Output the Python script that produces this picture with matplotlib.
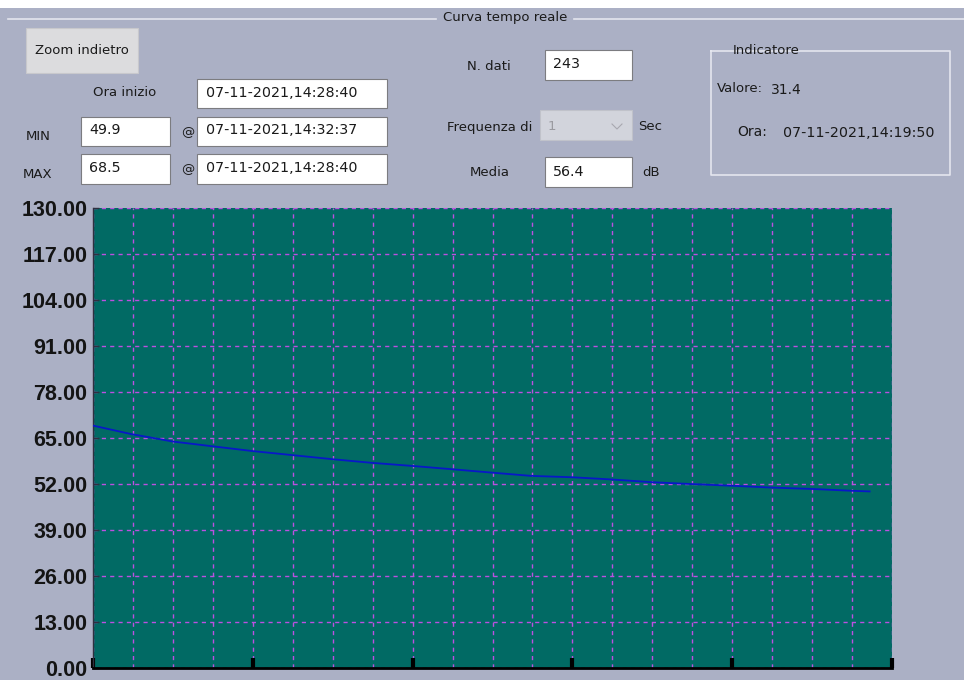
import matplotlib
matplotlib.use("Agg")
import matplotlib.pyplot as plt
from matplotlib.patches import Rectangle

# curve (sample index, dB)
sample_idx = [0, 12, 25, 37, 50, 62, 75, 87, 100, 112, 125, 137, 150, 162,
              175, 187, 200, 212, 225, 237, 243]
level_db = [68.5, 66.1, 64.0, 62.7, 61.3, 60.2, 59.0, 58.0, 57.1, 56.2, 55.2,
            54.3, 53.9, 53.3, 52.5, 52.0, 51.5, 51.0, 50.6, 50.1, 49.9]

y_ticks = [0, 13, 26, 39, 52, 65, 78, 91, 104, 117, 130]
x_major = [0, 50, 100, 150, 200, 250]
x_minor = [i * 12.5 for i in range(21)]

ora_inizio = "07-11-2021,14:28:40"
min_val, min_time = "49.9", "07-11-2021,14:32:37"
max_val, max_time = "68.5", "07-11-2021,14:28:40"
n_dati = "243"
media = "56.4"
freq = "1"
valore = "31.4"
ora_ind = "07-11-2021,14:19:50"

W, H = 964, 680
BG = "#abb0c5"
TEAL = "#016a64"
GRID = "#bc50e0"
FRAME = "#e4e6ee"
UI_FONT = "DejaVu Sans"

fig = plt.figure(figsize=(W / 100, H / 100), dpi=100, facecolor=BG)

# overlay in pixel coordinates for the form widgets
ui = fig.add_axes([0, 0, 1, 1])
ui.set_xlim(0, W)
ui.set_ylim(H, 0)
ui.axis("off")

def box(x0, y0, x1, y1, fc="white", ec="#7c7c80", lw=0.8):
    ui.add_patch(Rectangle((x0, y0), x1 - x0, y1 - y0, fc=fc, ec=ec, lw=lw))

def label(x, y, s, ha="left", size=9.5, color="#1a1a1a"):
    ui.text(x, y, s, ha=ha, va="center", fontsize=size, color=color, family=UI_FONT)

# white strip at the very top and the group frame
ui.add_patch(Rectangle((0, 0), W, 8, fc="white", ec="none"))
ui.plot([8, 436], [19, 19], color=FRAME, lw=1.2)
ui.plot([574, W], [19, 19], color=FRAME, lw=1.2)
label(505, 18, "Curva tempo reale", ha="center")

# zoom button
box(26, 28, 138, 73, fc="#dcdcde", ec="#c8c8cc")
label(82, 51, "Zoom indietro", ha="center")

label(125, 93, "Ora inizio", ha="center")
box(197, 79, 387, 108)
label(206, 93, ora_inizio, size=10.3)

label(38, 137, "MIN", ha="center")
box(81, 117, 170, 146)
label(89, 130, min_val, size=10.3)
label(188, 133, "@", ha="center")
box(197, 117, 387, 146)
label(206, 130, min_time, size=10.3)

label(38, 174, "MAX", ha="center")
box(81, 154, 170, 184)
label(89, 168, max_val, size=10.3)
label(188, 170, "@", ha="center")
box(197, 154, 387, 184)
label(206, 168, max_time, size=10.3)

label(489, 66, "N. dati", ha="center")
box(545, 50, 632, 80)
label(553, 64, n_dati, size=10.3)

label(490, 127, "Frequenza di", ha="center")
box(540, 110, 632, 140, fc="#d2d4dc", ec="#c0c2ca")
label(548, 127, freq, color="#9a9aa0")
ui.plot([612, 617, 622], [124, 129, 124], color="#a8a8b0", lw=0.8)
label(638, 126, "Sec")

label(490, 173, "Media", ha="center")
box(545, 157, 632, 187)
label(553, 172, media, size=10.3)
label(642, 172, "dB")

# Indicatore group
ui.plot([711, 711, 950, 950, 711], [51, 175, 175, 51, 51], color=FRAME, lw=1.2)
ui.add_patch(Rectangle((729, 44), 66, 14, fc=BG, ec="none"))
label(733, 50, "Indicatore")
label(717, 89, "Valore:")
label(771, 90, valore, size=10)
label(737, 132, "Ora:", size=10)
label(783, 133, ora_ind, size=10.3)

# chart
ax = fig.add_axes([93 / W, (H - 668) / H, 799 / W, 460 / H], zorder=2)
ax.set_facecolor(TEAL)
ax.set_xlim(0, 250)
ax.set_ylim(0, 130)
ax.plot(sample_idx, level_db, color="#0818c8", lw=1.3, zorder=3)

ax.set_yticks(y_ticks)
ax.set_yticklabels([f"{v:.2f}" for v in y_ticks],
                   family=["Liberation Sans", "DejaVu Sans"],
                   fontweight="bold", fontsize=15.5, color="#141414")
ax.set_xticks(x_major)
ax.set_xticklabels([])
for v in y_ticks:
    ax.axhline(v, color=GRID, lw=1.0, ls=(0, (3, 3)), zorder=1)
for v in x_minor:
    ax.axvline(v, color=GRID, lw=1.0, ls=(0, (3, 3)), zorder=1)

ax.tick_params(axis="y", direction="in", length=4, width=1, color="#303040", pad=4)
ax.tick_params(axis="x", direction="in", length=7, width=3, color="black")
for s in ["top", "right"]:
    ax.spines[s].set_visible(False)
ax.spines["left"].set_color("#303040")
ax.spines["left"].set_linewidth(1)
ax.spines["bottom"].set_color("black")
ax.spines["bottom"].set_linewidth(2)

fig.savefig("out.png", dpi=100, facecolor=BG)
